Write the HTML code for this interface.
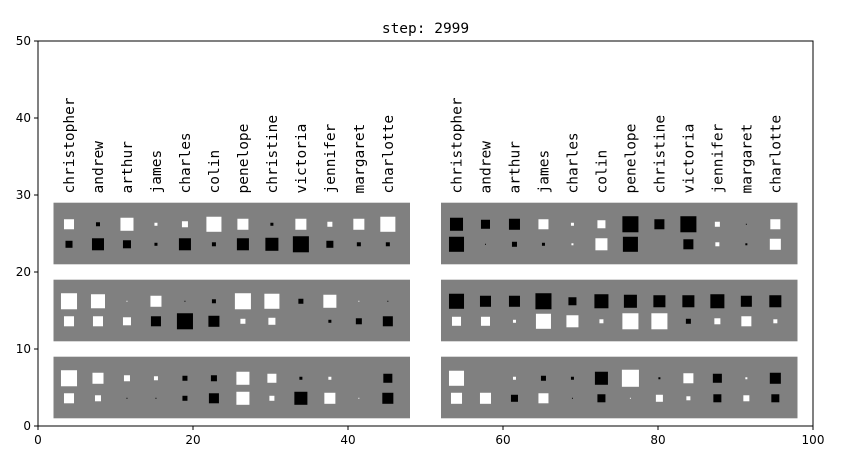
<!DOCTYPE html>
<html><head><meta charset="utf-8"><style>
body{margin:0;background:#fff}
svg{display:block}
text{font-family:"DejaVu Sans","Liberation Sans",sans-serif;fill:#000}
.mono{font-family:"DejaVu Sans Mono","Liberation Mono",monospace}
</style></head><body>
<svg id="chart" width="848" height="466" viewBox="0 0 848 466" xmlns="http://www.w3.org/2000/svg">
<rect x="0" y="0" width="848" height="466" fill="#fff"/>
<text x="425.5" y="33" text-anchor="middle" class="mono" font-size="14.5">step: 2999</text>
<g id="plot"></g>
<rect x="38" y="41" width="775" height="385" fill="none" stroke="#000" stroke-width="1"/>
</svg>
<script>
const names = ["christopher","andrew","arthur","james","charles","colin","penelope","christine","victoria","jennifer","margaret","charlotte"];
const xTicks = [0,20,40,60,80,100];
const yTicks = [0,10,20,30,40,50];
// weights (signed, max magnitude 17); positive = white, negative = black
const leftTopA = [10,-4,13,3,6,15,11,-3,11,5,11,15];
const leftTopB = [-7,-12,-8,-3,-12,-4,-12,-13,-16,-7,-4,-4];
const rightTopA = [-13,-9,-11,10,3,8,-16,-10,-16,5,-1,10];
const rightTopB = [-15,-1,-5,-3,2,12,-15,0,-10,4,-2,11];
const leftMidA = [16,14,1,11,-1,-4,16,15,-5,13,1,-1];
const leftMidB = [10,10,8,-10,-16,-11,5,7,0,-3,-6,-10];
const rightMidA = [-15,-11,-11,-16,-8,-14,-13,-12,-12,-14,-11,-12];
const rightMidB = [9,9,3,15,12,4,16,16,-5,6,10,4];
const leftBotA = [16,11,6,4,-5,-6,13,9,-3,3,0,-9];
const leftBotB = [10,6,-1,-1,-5,-10,13,5,-13,11,1,-11];
const rightBotA = [15,0,3,-5,-3,-13,17,-2,10,-9,2,-11];
const rightBotB = [11,11,-7,10,-1,-8,1,7,4,-8,6,-8];

const NS="http://www.w3.org/2000/svg";
const X0=38,X1=813,Y0=426,Y1=41;
const xs=v=>X0+(v/100)*(X1-X0);
const ys=v=>Y0-(v/50)*(Y0-Y1);
const pxPerUnit=(X1-X0)/100;
const plot=document.getElementById('plot');
function mk(tag,attrs){const e=document.createElementNS(NS,tag);for(const k in attrs)e.setAttribute(k,attrs[k]);plot.appendChild(e);return e;}

const panels=[
 {x0:2,x1:48,top:29,a:leftTopA,b:leftTopB,n:'left-top'},
 {x0:52,x1:98,top:29,a:rightTopA,b:rightTopB,n:'right-top'},
 {x0:2,x1:48,top:19,a:leftMidA,b:leftMidB,n:'left-middle'},
 {x0:52,x1:98,top:19,a:rightMidA,b:rightMidB,n:'right-middle'},
 {x0:2,x1:48,top:9,a:leftBotA,b:leftBotB,n:'left-bottom'},
 {x0:52,x1:98,top:9,a:rightBotA,b:rightBotB,n:'right-bottom'}
];
const maxSide=2.2; // data units for magnitude 17
panels.forEach(p=>{
  const r=mk('rect',{x:xs(p.x0),y:ys(p.top),width:xs(p.x1)-xs(p.x0),height:ys(p.top-8)-ys(p.top),fill:'#808080'});
  
  
  [[p.a,2.8,'a'],[p.b,5.4,'b']].forEach(([arr,off,row])=>{
    arr.forEach((v,i)=>{
      const cx=xs(p.x0+2+i*3.74), cy=ys(p.top-off);
      const s=Math.abs(v)/17*maxSide*pxPerUnit;
      if(s<=0) return;
      const q=mk('rect',{x:cx-s/2,y:cy-s/2,width:s,height:s,fill:v>0?'#fff':'#000'});
      
      
    });
  });
});
[2,52].forEach((x0,k)=>{
  names.forEach((nm,i)=>{
    const cx=xs(x0+2+i*3.74), y=ys(30.2);
    const t=mk('text',{x:0,y:0,transform:`translate(${cx+5},${y}) rotate(-90)`,'font-size':'14.5',class:'mono'});
    t.textContent=nm;
    
    
  });
});
xTicks.forEach(v=>{
  const l=mk('line',{x1:xs(v),x2:xs(v),y1:Y0,y2:Y0+4,stroke:'#000'});
  
  
  const t=mk('text',{x:xs(v),y:Y0+18,'text-anchor':'middle','font-size':'12'});
  t.textContent=v;
  
  
});
yTicks.forEach(v=>{
  const l=mk('line',{x1:X0-4,x2:X0,y1:ys(v),y2:ys(v),stroke:'#000'});
  
  
  const t=mk('text',{x:X0-7,y:ys(v)+4,'text-anchor':'end','font-size':'12'});
  t.textContent=v;
  
  
});
</script>
</body></html>
